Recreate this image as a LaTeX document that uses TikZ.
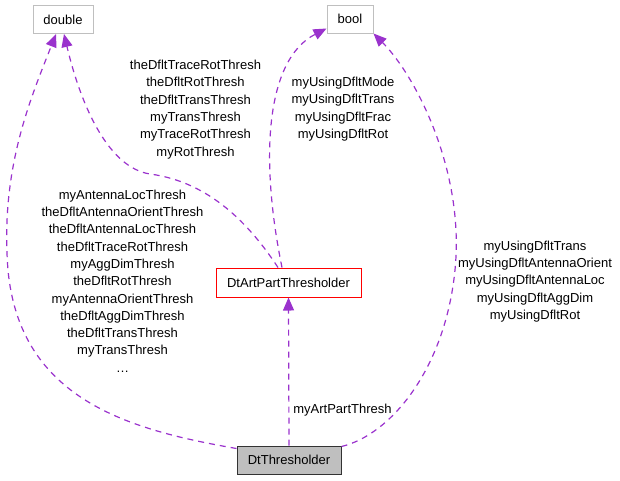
\documentclass[tikz,border=0pt]{standalone}
\usepackage{fontspec}
\setmainfont{Liberation Sans}
\usetikzlibrary{arrows.meta}
\definecolor{edgec}{HTML}{9A32CD}
\definecolor{boxgrey}{HTML}{BFBFBF}
\tikzset{
  box/.style={draw=boxgrey, line width=1pt, inner sep=0pt, font=\fontsize{13pt}{17.3pt}\selectfont},
  edge/.style={draw=edgec, line width=1.2pt, dash pattern=on 6pt off 5pt, -{Triangle[length=13pt,width=11pt,fill=edgec]}},
  lbl/.style={align=center, inner sep=0pt, font=\fontsize{13pt}{17.3pt}\selectfont}
}
\begin{document}
\begin{tikzpicture}[x=1pt,y=-1pt]
\useasboundingbox (0,0) rectangle (620,480);
\node[box, minimum width=60pt, minimum height=28pt] (double) at (63,19.5) {double};
\node[box, minimum width=46pt, minimum height=28pt] (bool) at (350,19) {bool};
\node[box, draw=red, minimum width=145pt, minimum height=29pt] (apt) at (288.5,282.5) {DtArtPartThresholder};
\node[box, draw=black!80, fill=boxgrey, minimum width=104pt, minimum height=28pt] (dt) at (289,460) {DtThresholder};

% dt -> double (left)
\draw[edge] ([yshift=-3pt]dt.north west) .. controls (130,430) and (20,400) .. (8,270)
  .. controls (0,170) and (30,100) .. ([xshift=-7pt]double.south);
% apt -> double
\draw[edge] ([xshift=-10.5pt]apt.north) .. controls (250,225) and (210,182) .. (150,174)
  .. controls (110,168) and (82,110) .. ([xshift=1pt]double.south);
% apt -> bool
\draw[edge] ([xshift=-6.5pt]apt.north) .. controls (260,160) and (265,60) .. ([yshift=5pt]bool.south west);
% dt -> bool (right)
\draw[edge] ([yshift=-1pt]dt.north east) .. controls (390,435) and (445,370) .. (455,270)
  .. controls (465,170) and (415,75) .. (bool.south east);
% dt -> apt
\draw[edge] (dt.north) -- (apt.south);

\node[lbl] (l1) at (122.5,281) {myAntennaLocThresh\\theDfltAntennaOrientThresh\\theDfltAntennaLocThresh\\theDfltTraceRotThresh\\myAggDimThresh\\theDfltRotThresh\\myAntennaOrientThresh\\theDfltAggDimThresh\\theDfltTransThresh\\myTransThresh\\\dots};
\node[lbl] (l2) at (195.5,109.5) {theDfltTraceRotThresh\\theDfltRotThresh\\theDfltTransThresh\\myTransThresh\\myTraceRotThresh\\myRotThresh};
\node[lbl] (l3) at (343,109) {myUsingDfltMode\\myUsingDfltTrans\\myUsingDfltFrac\\myUsingDfltRot};
\node[lbl] (l4) at (535,281.5) {myUsingDfltTrans\\myUsingDfltAntennaOrient\\myUsingDfltAntennaLoc\\myUsingDfltAggDim\\myUsingDfltRot};
\node[lbl] (l5) at (342.5,410) {myArtPartThresh};
\end{tikzpicture}
\end{document}
